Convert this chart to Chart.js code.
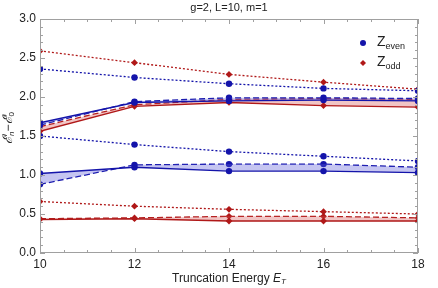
<!DOCTYPE html>
<html>
<head>
<meta charset="utf-8">
<script src="https://cdn.jsdelivr.net/npm/chart.js@4"></script>
<style>
    html, body { margin: 0; padding: 0; background: #fff; }
    #wrap { width: 438px; height: 288px; }
</style>
</head>
<body>
<div id="wrap"><canvas id="chart" width="438" height="288"></canvas></div>
<script>
// Data
const truncEnergy = [10, 12, 14, 16, 18];

const evenTopDotted  = [2.36, 2.25, 2.17, 2.11, 2.08];
const evenUpSolid    = [1.67, 1.93, 1.95, 1.96, 1.95];
const evenUpDashed   = [1.64, 1.94, 1.99, 1.99, 1.98];
const evenMidDotted  = [1.50, 1.39, 1.30, 1.24, 1.18];
const evenLowSolid   = [1.02, 1.10, 1.05, 1.05, 1.03];
const evenLowDashed  = [0.88, 1.13, 1.14, 1.14, 1.10];

const oddTopDotted   = [2.59, 2.44, 2.29, 2.19, 2.10];
const oddUpSolid     = [1.56, 1.88, 1.93, 1.89, 1.87];
const oddUpDashed    = [1.62, 1.90, 1.97, 1.98, 1.97];
const oddLowDotted   = [0.66, 0.60, 0.56, 0.53, 0.50];
const oddLowSolid    = [0.43, 0.44, 0.41, 0.41, 0.41];
const oddLowDashed   = [0.44, 0.45, 0.47, 0.47, 0.45];

const xTicks = [10, 12, 14, 16, 18];
const yTicks = [0.0, 0.5, 1.0, 1.5, 2.0, 2.5, 3.0];

const BLUE = '#1414aa';
const RED = '#b01818';
const BLUE_FILL = 'rgba(90, 90, 215, 0.35)';
const RED_FILL = 'rgba(215, 90, 90, 0.35)';

function pts(values) {
    return truncEnergy.map((x, i) => ({ x, y: values[i] }));
}

function series(values, color, style, fill, fillColor) {
    const dash = style === 'dotted' ? [2, 2] : style === 'dashed' ? [6, 3] : [];
    return {
        data: pts(values),
        borderColor: color,
        backgroundColor: fillColor || color,
        pointBackgroundColor: color,
        pointBorderColor: color,
        pointBorderWidth: 0,
        pointStyle: color === BLUE ? 'circle' : 'rectRot',
        pointRadius: color === BLUE ? 3.2 : 3.4,
        borderWidth: style === 'solid' ? 1.4 : 1.3,
        borderDash: dash,
        fill: fill || false,
        tension: 0
    };
}

// Frame, ticks, title, axis labels and legend
const decorations = {
    id: 'decorations',
    afterDatasetsDraw(chart) {
        const { ctx, chartArea: a, scales: { x, y } } = chart;
        ctx.save();
        ctx.strokeStyle = '#a0a0a0';
        ctx.lineWidth = 1;
        ctx.strokeRect(a.left + 0.5, a.top + 0.5, a.right - a.left - 1, a.bottom - a.top - 1);

        ctx.beginPath();
        for (let v = 10; v <= 18.001; v += 0.5) {
            const px = Math.round(x.getPixelForValue(v)) + 0.5;
            const len = Math.abs(v % 2) < 0.01 ? 5 : 3;
            ctx.moveTo(px, a.bottom); ctx.lineTo(px, a.bottom - len);
            ctx.moveTo(px, a.top); ctx.lineTo(px, a.top + len);
        }
        for (let i = 0; i <= 30; i++) {
            const py = Math.round(y.getPixelForValue(i / 10)) + 0.5;
            const len = i % 5 === 0 ? 5 : 3;
            ctx.moveTo(a.left, py); ctx.lineTo(a.left + len, py);
            ctx.moveTo(a.right, py); ctx.lineTo(a.right - len, py);
        }
        ctx.stroke();

        ctx.fillStyle = '#222';
        ctx.textBaseline = 'middle';

        // title
        ctx.font = '11px "Liberation Sans", Arial, sans-serif';
        ctx.textAlign = 'center';
        ctx.fillText('g=2, L=10, m=1', (a.left + a.right) / 2, 8);

        // x axis title
        ctx.font = '12px "Liberation Sans", Arial, sans-serif';
        const base = 'Truncation Energy ';
        const wBase = ctx.measureText(base).width;
        ctx.font = 'italic 12px "Liberation Sans", Arial, sans-serif';
        const wE = ctx.measureText('E').width;
        ctx.font = 'italic 8px "Liberation Sans", Arial, sans-serif';
        const wT = ctx.measureText('T').width;
        let sx = 229 - (wBase + wE + wT) / 2;
        ctx.textAlign = 'left';
        ctx.font = '12px "Liberation Sans", Arial, sans-serif';
        ctx.fillText(base, sx, 279);
        ctx.font = 'italic 12px "Liberation Sans", Arial, sans-serif';
        ctx.fillText('E', sx + wBase, 279);
        ctx.font = 'italic 8px "Liberation Sans", Arial, sans-serif';
        ctx.fillText('T', sx + wBase + wE, 282);

        // y axis title (rotated)
        ctx.save();
        ctx.translate(9, 128);
        ctx.rotate(-Math.PI / 2);
        ctx.textAlign = 'left';
        const parts = [
            ['ℰ', 'italic 13px "DejaVu Serif", serif', 0],
            ['n', 'italic 8px "Liberation Sans", sans-serif', 3],
            ['−', '12px "Liberation Sans", sans-serif', 0],
            ['ℰ', 'italic 13px "DejaVu Serif", serif', 0],
            ['0', '8px "Liberation Sans", sans-serif', 3]
        ];
        let total = 0;
        parts.forEach(p => { ctx.font = p[1]; total += ctx.measureText(p[0]).width; });
        let cx = -total / 2;
        parts.forEach((p, i) => {
            ctx.font = p[1];
            ctx.fillText(p[0], cx, p[2]);
            if (i === 1 || i === 4) {
                ctx.font = 'italic 8px "Liberation Sans", sans-serif';
                ctx.fillText('i', cx, -4);
            }
            cx += ctx.measureText(p[0]).width;
        });
        ctx.restore();

        // legend
        const items = [
            { color: BLUE, style: 'circle', sub: 'even', yy: 43 },
            { color: RED, style: 'diamond', sub: 'odd', yy: 63 }
        ];
        items.forEach(it => {
            ctx.fillStyle = it.color;
            ctx.beginPath();
            if (it.style === 'circle') {
                ctx.arc(363, it.yy, 3, 0, Math.PI * 2);
            } else {
                ctx.moveTo(363, it.yy - 3); ctx.lineTo(366, it.yy);
                ctx.lineTo(363, it.yy + 3); ctx.lineTo(360, it.yy);
                ctx.closePath();
            }
            ctx.fill();
            ctx.fillStyle = '#222';
            ctx.textAlign = 'left';
            ctx.font = '14px "Liberation Sans", Arial, sans-serif';
            ctx.fillText('Z', 377, it.yy - 1);
            const wz = ctx.measureText('Z').width;
            ctx.font = '9px "Liberation Sans", Arial, sans-serif';
            ctx.fillText(it.sub, 377 + wz, it.yy + 4);
        });
        ctx.restore();
    }
};

const ctx = document.getElementById('chart').getContext('2d');
new Chart(ctx, {
    type: 'line',
    data: {
        datasets: [
            series(evenUpSolid, BLUE, 'solid', '+1', BLUE_FILL),
            series(evenUpDashed, BLUE, 'dashed'),
            series(oddUpSolid, RED, 'solid', '+1', RED_FILL),
            series(oddUpDashed, RED, 'dashed'),
            series(evenLowSolid, BLUE, 'solid', '+1', BLUE_FILL),
            series(evenLowDashed, BLUE, 'dashed'),
            series(oddLowSolid, RED, 'solid', '+1', RED_FILL),
            series(oddLowDashed, RED, 'dashed'),
            series(evenTopDotted, BLUE, 'dotted'),
            series(evenMidDotted, BLUE, 'dotted'),
            series(oddTopDotted, RED, 'dotted'),
            series(oddLowDotted, RED, 'dotted')
        ]
    },
    options: {
        responsive: false,
        animation: false,
        layout: { padding: { top: 19, right: 20, left: 0, bottom: 0 } },
        plugins: {
            legend: { display: false },
            tooltip: { enabled: false },
            filler: { propagate: false }
        },
        scales: {
            x: {
                type: 'linear',
                min: 10,
                max: 18,
                grid: { display: false, drawTicks: false },
                border: { display: false },
                afterBuildTicks(scale) { scale.ticks = xTicks.map(v => ({ value: v })); },
                afterFit(scale) { scale.height = 35; },
                ticks: {
                    color: '#222',
                    padding: 4,
                    maxRotation: 0,
                    font: { size: 12, family: '"Liberation Sans", Arial, sans-serif' }
                }
            },
            y: {
                min: 0,
                max: 3,
                grid: { display: false, drawTicks: false },
                border: { display: false },
                afterBuildTicks(scale) { scale.ticks = yTicks.map(v => ({ value: v })); },
                afterFit(scale) { scale.width = 40; },
                ticks: {
                    color: '#222',
                    padding: 4,
                    callback: v => v.toFixed(1),
                    font: { size: 12, family: '"Liberation Sans", Arial, sans-serif' }
                }
            }
        }
    },
    plugins: [decorations]
});
</script>
</body>
</html>
